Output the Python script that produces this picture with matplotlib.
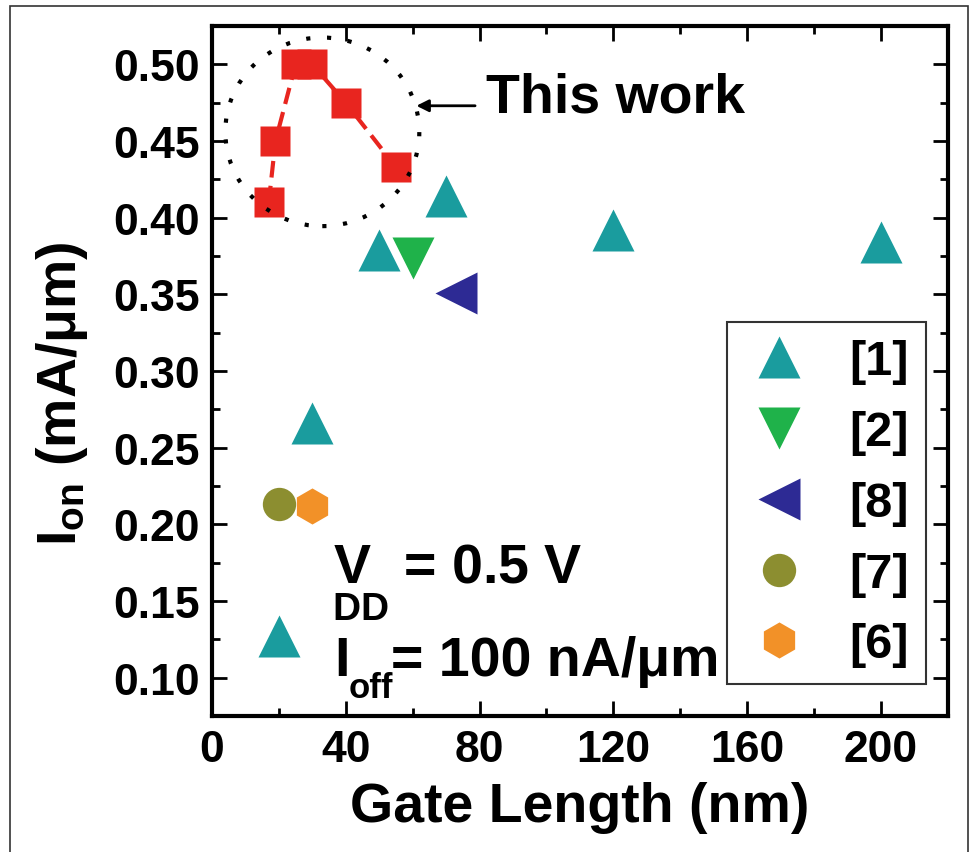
import matplotlib
matplotlib.use('Agg')
import matplotlib.pyplot as plt
from matplotlib.patches import Ellipse, Rectangle
from matplotlib.lines import Line2D
from matplotlib.ticker import MultipleLocator, FormatStrFormatter

plt.rcParams['font.family'] = ['Liberation Sans', 'DejaVu Sans']
plt.rcParams['font.weight'] = 'bold'
plt.rcParams['mathtext.fontset'] = 'custom'
plt.rcParams['mathtext.rm'] = 'Liberation Sans:bold'
plt.rcParams['mathtext.it'] = 'Liberation Sans:bold'
plt.rcParams['mathtext.bf'] = 'Liberation Sans:bold'

# data
this_work_x = [17, 19, 25, 30, 40, 55]
this_work_y = [0.41, 0.45, 0.50, 0.50, 0.475, 0.433]
ref1_x = [20, 30, 50, 70, 120, 200]
ref1_y = [0.127, 0.266, 0.379, 0.414, 0.392, 0.384]
ref2_x = [60]
ref2_y = [0.374]
ref8_x = [73]
ref8_y = [0.351]
ref7_x = [20]
ref7_y = [0.213]
ref6_x = [30]
ref6_y = [0.212]

labels = ['[1]', '[2]', '[8]', '[7]', '[6]']
markers = ['^', 'v', '<', 'o', 'h']
colors = ['#1a9c9e', '#1fb24a', '#2d2a94', '#8c8e30', '#f29128']
sizes = [30, 30, 30, 24, 26]

fig = plt.figure(figsize=(9.72, 8.53), dpi=100)
ax = fig.add_axes([0.218, 0.1594, 0.7572, 0.8089])

# this work
ax.plot(this_work_x, this_work_y, color='#e8251f', ls=(0, (4, 2)), lw=3, zorder=2)
ax.plot(this_work_x, this_work_y, 's', color='#e8251f', ms=21, mec='none', zorder=3)

series = [(ref1_x, ref1_y), (ref2_x, ref2_y), (ref8_x, ref8_y), (ref7_x, ref7_y), (ref6_x, ref6_y)]
handles = []
for (xs, ys), m, c, s, lab in zip(series, markers, colors, sizes, labels):
    ax.plot(xs, ys, ls='none', marker=m, color=c, ms=s, mec='none', zorder=3)
    handles.append(Line2D([], [], ls='none', marker=m, color=c, ms=s, mec='none', label=lab))

# dotted circle around this work
ax.add_patch(Ellipse((33, 0.456), 58, 0.123, fill=False, ec='k', lw=3,
                     ls=(0, (1, 4)), zorder=4))
ax.annotate('', xy=(60.3, 0.473), xytext=(79.5, 0.473),
            arrowprops=dict(arrowstyle='-|>', color='k', lw=2, mutation_scale=18))
ax.text(82, 0.469, 'This work', fontsize=40, fontweight='bold', va='baseline', ha='left')

# condition text
ax.text(35.8, 0.162, r'$\underset{\mathregular{DD}}{\mathregular{V}\ }$ = 0.5 V', fontsize=40,
        fontweight='bold', va='baseline')
ax.text(36.7, 0.102, 'I', fontsize=40, fontweight='bold', va='baseline')
ax.text(41.0, 0.0877, 'off', fontsize=25, fontweight='bold', va='baseline')
ax.text(53.5, 0.102, '= 100 nA/μm', fontsize=40, fontweight='bold', va='baseline')

ax.set_xlim(0, 220)
ax.set_ylim(0.075, 0.525)
ax.xaxis.set_major_locator(MultipleLocator(40))
ax.xaxis.set_minor_locator(MultipleLocator(20))
ax.yaxis.set_major_locator(MultipleLocator(0.05))
ax.yaxis.set_minor_locator(MultipleLocator(0.025))
ax.yaxis.set_major_formatter(FormatStrFormatter('%.2f'))
ax.set_yticks([0.10, 0.15, 0.20, 0.25, 0.30, 0.35, 0.40, 0.45, 0.50])

ax.tick_params(which='both', direction='in', top=True, right=True, width=2)
ax.tick_params(which='major', length=11, labelsize=32, pad=9)
ax.tick_params(which='minor', length=6)
for lbl in ax.get_xticklabels() + ax.get_yticklabels():
    lbl.set_fontweight('bold')
for sp in ax.spines.values():
    sp.set_linewidth(3)

ax.set_xlabel('Gate Length (nm)', fontsize=40, fontweight='bold', labelpad=8)
ax.set_ylabel(r'I$_{\rm on}$ (mA/μm)', fontsize=40, fontweight='bold')
ax.yaxis.set_label_coords(-0.165, 0.468)

leg = ax.legend(handles=handles, loc='lower right', bbox_to_anchor=(0.970, 0.046),
                borderaxespad=0, frameon=True, fancybox=False,
                edgecolor='k', borderpad=0.35, labelspacing=0.53,
                handlelength=1.44, handletextpad=0.72, prop={'weight': 'bold', 'size': 35})
leg.get_frame().set_linewidth(1.5)

# thin frame around the whole picture
fig.patches.append(Rectangle((0.0103, -0.01), 0.9856, 1.0018, transform=fig.transFigure,
                             fill=False, ec='#333333', lw=1.2))

fig.savefig('out.png', dpi=100)
